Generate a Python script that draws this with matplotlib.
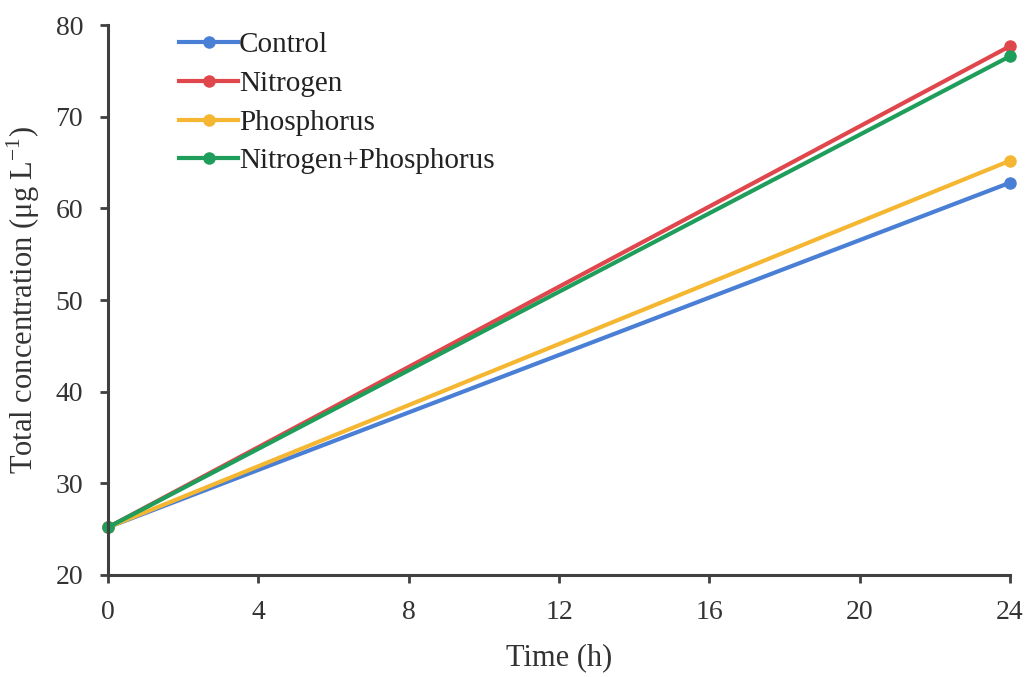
import matplotlib.pyplot as plt

plt.rcParams['font.family'] = ['Liberation Serif', 'DejaVu Serif']
plt.rcParams['mathtext.fontset'] = 'custom'
plt.rcParams['mathtext.rm'] = 'Liberation Serif'

# data
time_h = [0, 24]
control = [25.2, 62.8]
nitrogen = [25.2, 77.7]
phosphorus = [25.2, 65.2]
nitrogen_phosphorus = [25.2, 76.6]

series = [
    ('Control', control, '#4a7fd6'),
    ('Nitrogen', nitrogen, '#e0474c'),
    ('Phosphorus', phosphorus, '#f5b731'),
    ('Nitrogen+Phosphorus', nitrogen_phosphorus, '#1f9d5a'),
]

fig = plt.figure(figsize=(10.3, 6.77), dpi=100)
ax = fig.add_axes([0.1049, 0.1507, 0.8757, 0.8123])

for name, vals, col in series:
    ax.plot(time_h, vals, color=col, lw=3, marker='o', ms=8, label=name,
            clip_on=False)

ax.set_xlim(0, 24)
ax.set_ylim(20, 80)
ax.set_xticks(range(0, 25, 4))
ax.set_yticks(range(20, 81, 10))

for s in ['top', 'right']:
    ax.spines[s].set_visible(False)
for s in ['left', 'bottom']:
    ax.spines[s].set_color('#404040')
    ax.spines[s].set_linewidth(2.2)
ax.tick_params(direction='out', length=6, width=2, color='#404040',
               labelsize=20, labelcolor='#333333')
ax.tick_params(axis='x', pad=12)
ax.tick_params(axis='y', pad=12)

ax.set_xlabel('Time (h)', fontsize=22, color='#333333', labelpad=13)
ax.set_ylabel('Total concentration (μg L$^{-1}$)', fontsize=22,
              color='#333333', labelpad=10)

ax.legend(loc='upper left', bbox_to_anchor=(0.05, 1.035), frameon=False,
          fontsize=21, handlelength=2.0, handletextpad=0.05,
          labelspacing=0.42, labelcolor='#222222')

fig.savefig('out.png', dpi=100)
